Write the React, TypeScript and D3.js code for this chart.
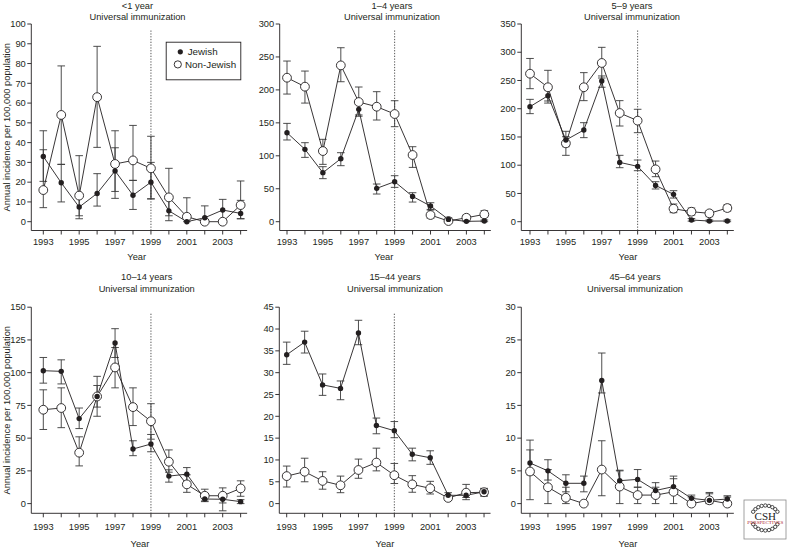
import React from "react";
import * as d3 from "d3";

// ---------- data ----------
const years = [1993, 1994, 1995, 1996, 1997, 1998, 1999, 2000, 2001, 2002, 2003, 2004];
const tickYears = [1993, 1995, 1997, 1999, 2001, 2003];
const ageGroups = ["<1 year", "1\u20134 years", "5\u20139 years", "10\u201314 years", "15\u201344 years", "45\u201364 years"];
const subtitle = "Universal immunization";
const seriesNames = ["Jewish", "Non-Jewish"];
const yAxisTitle = "Annual incidence per 100,000 population";
const xAxisTitle = "Year";
const vaccinationYear = 1999;

const yTicksLt1 = [0, 10, 20, 30, 40, 50, 60, 70, 80, 90, 100];
const yTicks1to4 = [0, 50, 100, 150, 200, 250, 300];
const yTicks5to9 = [0, 50, 100, 150, 200, 250, 300, 350];
const yTicks10to14 = [0, 25, 50, 75, 100, 125, 150];
const yTicks15to44 = [0, 5, 10, 15, 20, 25, 30, 35, 40, 45];
const yTicks45to64 = [0, 5, 10, 15, 20, 25, 30];

// <1 year
const jewLt1 = [33, 19.7, 7.4, 14.3, 25.7, 13.4, 20, 5.5, 0, 2, 5.9, 4.2];
const jewLt1Lo = [20.4, 10, 1.5, 7.9, 11.8, 6.2, 11.6, 0.5, 0, 0, 0.5, 1.5];
const jewLt1Hi = [46, 29, 14, 24.3, 37.4, 20.9, 30, 12, 0, 8, 11.3, 10.8];
const nonLt1 = [16, 54, 13.2, 63, 29.2, 31, 27, 12.3, 2.5, 0, 0, 8.4];
const nonLt1Lo = [7.1, 29, 3, 37.6, 15.3, 20.9, 11.5, 3, 0, 0, 0, 1.5];
const nonLt1Hi = [36.4, 78.8, 33.4, 88.7, 46, 48.7, 43.2, 27, 12.1, 0, 0, 20.6];

// 1-4 years
const jew1to4 = [135, 109.8, 74.4, 95.6, 170.5, 50.6, 60.7, 38.4, 23.8, 3.5, 0.5, 1];
const jew1to4Lo = [124, 97.6, 65.3, 85, 160, 42, 52.1, 29.8, 17.7, 1, 0, 0];
const jew1to4Hi = [149.2, 119.9, 83.5, 104.7, 181, 57.2, 69.8, 44, 28.8, 6, 1.5, 2.5];
const non1to4 = [218.5, 204.9, 107.2, 237.2, 181.6, 174.5, 163.4, 101.2, 10.1, 1, 6, 11.1];
const non1to4Lo = [193.7, 180, 87, 212.4, 162, 154.3, 144.2, 82.4, 5, 0, 2, 6.6];
const non1to4Hi = [243.8, 228.6, 125, 264, 204.4, 197.3, 183.6, 113.8, 18.7, 3.5, 10, 16.7];

// 5-9 years
const jew5to9 = [203.7, 223, 144.6, 162.3, 249.1, 105, 98, 64.3, 48.4, 3, 1.2, 1.2];
const jew5to9Lo = [191.3, 210, 132.8, 148.8, 238, 95.6, 90.3, 57.9, 41.9, 1, 0, 0];
const jew5to9Hi = [216.6, 233, 150.5, 175.3, 258, 117.5, 109.2, 70.8, 54.9, 5.5, 3, 3];
const non5to9 = [262, 238, 138.7, 238, 281, 192.4, 178.9, 92.7, 23, 17.7, 14.8, 24.2];
const non5to9Lo = [235.5, 213.7, 117.5, 214.3, 254.4, 169.4, 157.6, 79.7, 16, 11.8, 8.9, 18.3];
const non5to9Hi = [289, 268, 160, 263.9, 308.7, 214.3, 199, 107.4, 31.3, 24.2, 19.5, 30.1];

// 10-14 years
const jew10to14 = [101.5, 101, 64.9, 81.8, 122.7, 41.7, 45.5, 21, 22.5, 3.5, 3.3, 1.5];
const jew10to14Lo = [92, 91.4, 57.3, 73.7, 111.6, 36.6, 39.6, 16.4, 17, 1.5, 0.5, 0];
const jew10to14Hi = [111.6, 109.8, 73, 90.2, 133.6, 48, 52.8, 25.8, 27.5, 7, 6, 3];
const non10to14 = [71.7, 73, 38.9, 81.8, 104, 73.7, 62.9, 32, 14.7, 6, 6, 11.6];
const non10to14Lo = [56.6, 58, 28.8, 66.7, 88.4, 59.6, 49.2, 24, 8.6, 2, -5.5, 5.6];
const non10to14Hi = [86.9, 88.4, 51, 97.2, 119.2, 88.4, 76.3, 41, 22, 11, 12, 17.4];

// 15-44 years
const jew15to44 = [34.1, 37, 27.2, 26.4, 39.1, 17.9, 16.7, 11.3, 10.5, 1.9, 1.9, 2.7];
const jew15to44Lo = [31.9, 34.5, 24.8, 23.8, 36.4, 16, 15.1, 9.8, 9, 1.4, 1.4, 1.7];
const jew15to44Hi = [37, 39.5, 29.7, 28.1, 42, 19.6, 18.8, 12.7, 12.1, 2.5, 2.5, 3.5];
const non15to44 = [6.3, 7.3, 5.2, 4.2, 7.7, 9.4, 6.5, 4.4, 3.5, 1.3, 2.5, 2.6];
const non15to44Lo = [3.8, 5, 3.3, 2.5, 5.8, 7.5, 4.6, 2.6, 2.2, 0.8, 0.9, 1.8];
const non15to44Hi = [8.6, 10.4, 7.3, 6.3, 10.2, 12.7, 9.2, 6.4, 5.1, 1.8, 4.4, 3.4];

// 45-64 years
const jew45to64 = [6.2, 5, 3.1, 3.1, 18.8, 3.5, 3.7, 2, 2.6, 0.8, 0.5, 0.7];
const jew45to64Lo = [4.4, 3.6, 1.8, 1.8, 16.9, 2.5, 2.5, 1, 1.5, 0.3, 0, 0.3];
const jew45to64Hi = [8.2, 6.7, 4.4, 4.2, 23, 5, 5.2, 3.2, 4.2, 1.3, 1.7, 1.2];
const non45to64 = [4.9, 2.5, 0.9, 0, 5.2, 2.6, 1.3, 1.3, 1.8, 0, 0.5, 0];
const non45to64Lo = [0.6, 0, 0, 0, 1.2, 0, 0, 0, 0, 0, 0, 0];
const non45to64Hi = [9.7, 5.2, 2.5, 0, 9.6, 5.1, 2.5, 2.5, 3.8, 1, 1.5, 1];

// ---------- layout ----------
const FONT = "'Liberation Sans', Arial, Helvetica, sans-serif";
const FS = 9.3;
const STEP = 17.94;
const INK = "#231f20";

type Series = { v: number[]; lo: number[]; hi: number[] };
type PanelCfg = {
  title: string;
  ticks: number[];
  jew: Series;
  non: Series;
  axisX: number;
  x0: number;
  zeroY: number;
  topY: number;
  axisY: number;
  titleX: number;
  titleY: number;
  yearX: number;
  yearY: number;
  tickLabY: number;
  dotted: boolean;
  yTitle: boolean;
  legend: boolean;
};

const TOP = { zeroY: 221.7, topY: 24, axisY: 230.5, titleY: 8.6, yearY: 260.4, tickLabY: 245.4 };
const BOT = { zeroY: 503.6, topY: 307.2, axisY: 513.3, titleY: 280.4, yearY: 546.5, tickLabY: 530.2 };

const panels: PanelCfg[] = [
  { title: ageGroups[0], ticks: yTicksLt1, jew: { v: jewLt1, lo: jewLt1Lo, hi: jewLt1Hi }, non: { v: nonLt1, lo: nonLt1Lo, hi: nonLt1Hi },
    axisX: 31.3, x0: 43.3, ...TOP, titleX: 137.5, yearX: 136.7, dotted: true, yTitle: true, legend: true },
  { title: ageGroups[1], ticks: yTicks1to4, jew: { v: jew1to4, lo: jew1to4Lo, hi: jew1to4Hi }, non: { v: non1to4, lo: non1to4Lo, hi: non1to4Hi },
    axisX: 279.7, x0: 287, ...TOP, titleX: 392, yearX: 384, dotted: true, yTitle: false, legend: false },
  { title: ageGroups[2], ticks: yTicks5to9, jew: { v: jew5to9, lo: jew5to9Lo, hi: jew5to9Hi }, non: { v: non5to9, lo: non5to9Lo, hi: non5to9Hi },
    axisX: 521.3, x0: 530, ...TOP, titleX: 632, yearX: 628, dotted: true, yTitle: false, legend: false },
  { title: ageGroups[3], ticks: yTicks10to14, jew: { v: jew10to14, lo: jew10to14Lo, hi: jew10to14Hi }, non: { v: non10to14, lo: non10to14Lo, hi: non10to14Hi },
    axisX: 31.3, x0: 43.3, ...BOT, titleX: 146.7, yearX: 140, dotted: true, yTitle: true, legend: false },
  { title: ageGroups[4], ticks: yTicks15to44, jew: { v: jew15to44, lo: jew15to44Lo, hi: jew15to44Hi }, non: { v: non15to44, lo: non15to44Lo, hi: non15to44Hi },
    axisX: 279.3, x0: 286.7, ...BOT, titleX: 395, yearX: 385, dotted: true, yTitle: false, legend: false },
  { title: ageGroups[5], ticks: yTicks45to64, jew: { v: jew45to64, lo: jew45to64Lo, hi: jew45to64Hi }, non: { v: non45to64, lo: non45to64Lo, hi: non45to64Hi },
    axisX: 521.3, x0: 530, ...BOT, titleX: 635, yearX: 628, dotted: false, yTitle: false, legend: false },
];

function Panel({ c }: { c: PanelCfg }) {
  const x = d3.scaleLinear().domain([1993, 2003]).range([c.x0, c.x0 + 10 * STEP]);
  const yMax = c.ticks[c.ticks.length - 1];
  const y = d3.scaleLinear().domain([0, yMax]).range([c.zeroY, c.topY]);
  const line = d3
    .line<number>()
    .x((_, i) => x(years[i]))
    .y((d) => y(d));
  const xEnd = x(2004) + 6.5;
  const cap = 3.8;

  const errBars = (s: Series, key: string) =>
    years.map((yr, i) => {
      if (s.hi[i] === s.lo[i]) return null;
      const xx = x(yr);
      return (
        <g key={key + i} stroke="#3a3a3a" strokeWidth={0.9}>
          <line x1={xx} x2={xx} y1={y(s.lo[i])} y2={y(s.hi[i])} />
          <line x1={xx - cap} x2={xx + cap} y1={y(s.lo[i])} y2={y(s.lo[i])} />
          <line x1={xx - cap} x2={xx + cap} y1={y(s.hi[i])} y2={y(s.hi[i])} />
        </g>
      );
    });

  return (
    <g>
      {/* titles */}
      <text x={c.titleX} y={c.titleY} textAnchor="middle" fontSize={FS} fill={INK}>{c.title}</text>
      <text x={c.titleX} y={c.titleY + 11.6} textAnchor="middle" fontSize={FS} fill={INK}>{subtitle}</text>

      {/* axes */}
      <path d={`M${c.axisX},${y(yMax)}V${c.axisY}H${xEnd}`} fill="none" stroke={INK} strokeWidth={0.9} />
      {c.ticks.map((t) => (
        <g key={"yt" + t}>
          <line x1={c.axisX - 4} x2={c.axisX} y1={y(t)} y2={y(t)} stroke={INK} strokeWidth={0.9} />
          <text x={c.axisX - 5.5} y={y(t)} dy="0.35em" textAnchor="end" fontSize={FS} fill={INK}>{t}</text>
        </g>
      ))}
      {years.map((yr) => (
        <line key={"xt" + yr} x1={x(yr)} x2={x(yr)} y1={c.axisY} y2={c.axisY + 4} stroke={INK} strokeWidth={0.9} />
      ))}
      {tickYears.map((yr) => (
        <text key={"xl" + yr} x={x(yr)} y={c.tickLabY} textAnchor="middle" fontSize={FS} fill={INK}>{yr}</text>
      ))}
      <text x={c.yearX} y={c.yearY} textAnchor="middle" fontSize={FS} fill={INK}>{xAxisTitle}</text>
      {c.yTitle && (
        <text
          transform={`translate(10,${(y(yMax) + c.axisY) / 2}) rotate(-90)`}
          textAnchor="middle"
          fontSize={FS}
          fill={INK}
        >
          {yAxisTitle}
        </text>
      )}

      {/* vaccination line */}
      {c.dotted && (
        <line
          x1={x(vaccinationYear)}
          x2={x(vaccinationYear)}
          y1={y(yMax) + 6.5}
          y2={c.axisY}
          stroke="#444"
          strokeWidth={0.9}
          strokeDasharray="1.3,1.5"
        />
      )}

      {/* error bars */}
      {errBars(c.non, "en")}
      {errBars(c.jew, "ej")}

      {/* lines */}
      <path d={line(c.non.v) || ""} fill="none" stroke={INK} strokeWidth={0.9} />
      <path d={line(c.jew.v) || ""} fill="none" stroke={INK} strokeWidth={0.9} />

      {/* markers */}
      {c.non.v.map((v, i) => (
        <circle key={"on" + i} cx={x(years[i])} cy={y(v)} r={4.4} fill="#fff" stroke={INK} strokeWidth={0.9} />
      ))}
      {c.jew.v.map((v, i) => (
        <circle key={"fj" + i} cx={x(years[i])} cy={y(v)} r={2.7} fill={INK} />
      ))}

      {c.legend && (
        <g>
          <rect x={166.2} y={42.2} width={74.6} height={37.6} fill="#fff" stroke={INK} strokeWidth={0.9} />
          <circle cx={180.3} cy={51.8} r={2.6} fill={INK} />
          <text x={187.7} y={51.8} dy="0.35em" fontSize={9.8} fill={INK}>{seriesNames[0]}</text>
          <circle cx={177.8} cy={64.4} r={3.6} fill="#fff" stroke={INK} strokeWidth={0.9} />
          <text x={185} y={64.4} dy="0.35em" fontSize={9.8} fill={INK}>{seriesNames[1]}</text>
        </g>
      )}
    </g>
  );
}

function Logo() {
  const cx = 765.3;
  const cy = 518;
  const beads = d3
    .range(24)
    .map((i) => (i / 24) * Math.PI * 2)
    .filter((a) => Math.abs(Math.sin(a)) > 0.4)
    .map((a) => ({ x: cx + Math.cos(a) * 14, y: cy + Math.sin(a) * 12.5 }));
  return (
    <g>
      <rect x={744} y={500} width={42} height={39} fill="#fff" stroke="#8a8a8a" strokeWidth={0.8} />
      {beads.map((b, i) => (
        <circle key={i} cx={b.x} cy={b.y} r={1.7} fill="#fff" stroke="#222" strokeWidth={0.8} />
      ))}
      <text x={cx} y={cy + 1.5} textAnchor="middle" fontSize={11} fontFamily="'Liberation Serif', 'DejaVu Serif', serif" fill="#222">CSH</text>
      <text x={cx} y={cy + 6} textAnchor="middle" fontSize={4} textLength={36} lengthAdjust="spacingAndGlyphs" fontFamily="'Liberation Serif', serif" fill="#b0232a">PERSPECTIVES</text>
    </g>
  );
}

export default function App() {
  return (
    <svg
      width={787}
      height={549}
      viewBox="0 0 787 549"
      style={{ position: "absolute", left: 0, top: 0, background: "#fff" }}
      fontFamily={FONT}
    >
      <rect x={0} y={0} width={787} height={549} fill="#fff" />
      {panels.map((c, i) => (
        <Panel key={i} c={c} />
      ))}
      <Logo />
    </svg>
  );
}
